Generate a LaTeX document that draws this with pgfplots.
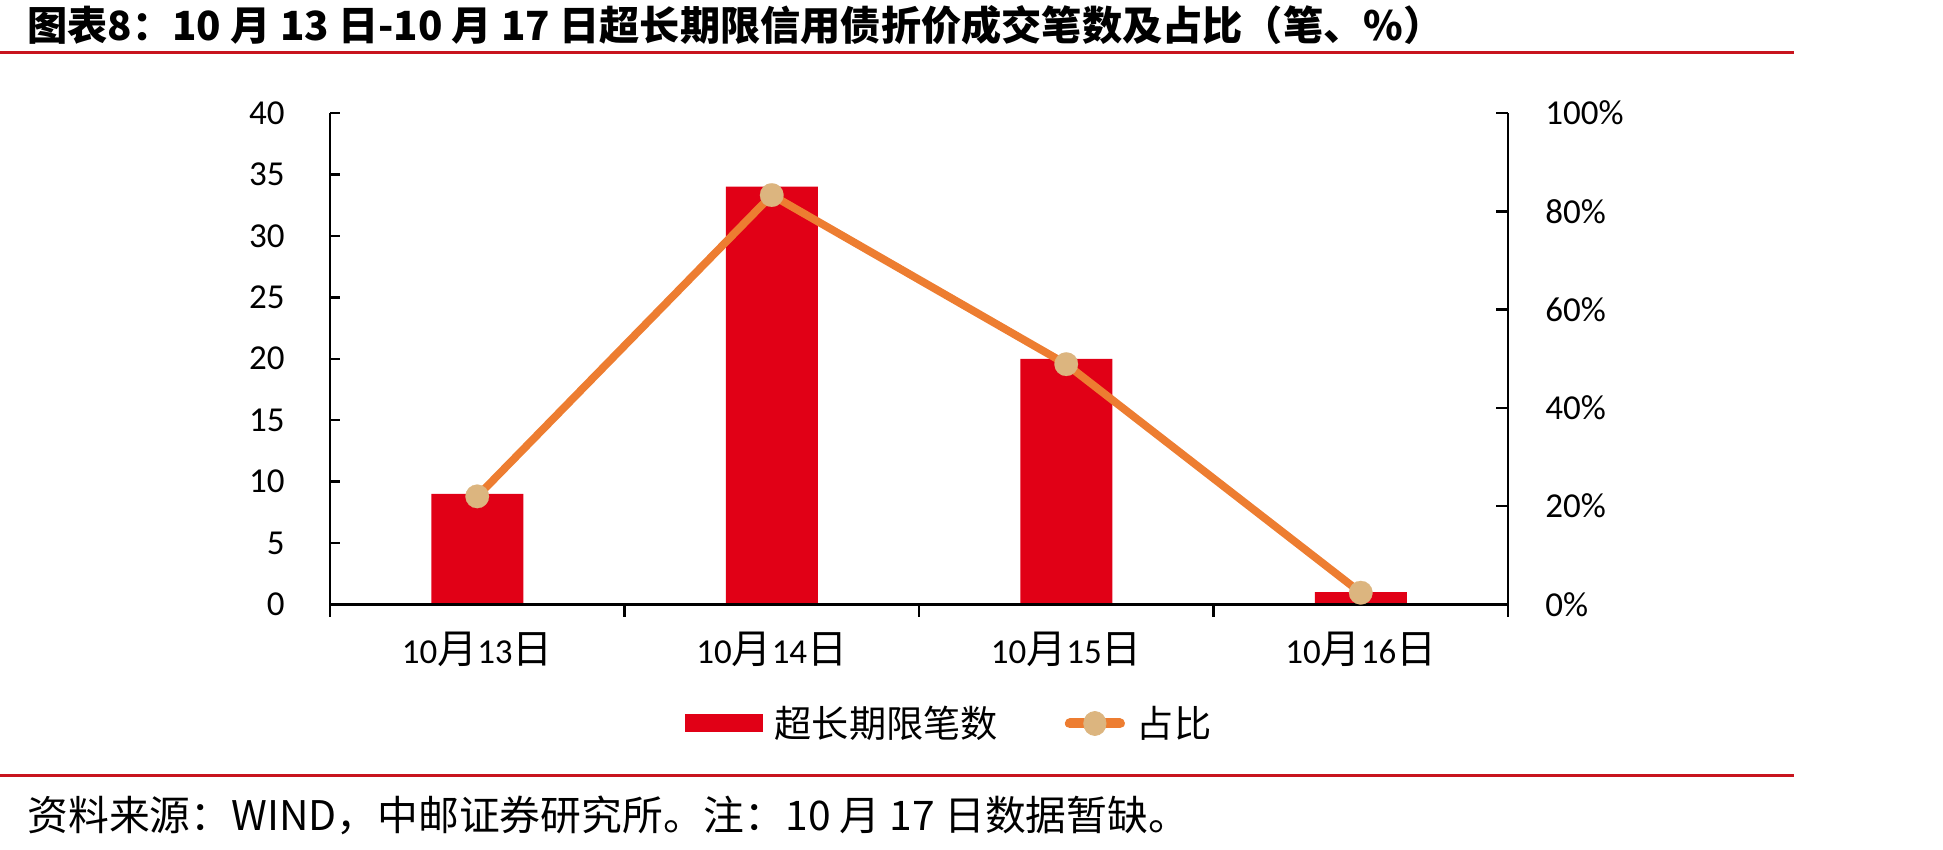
\documentclass[border=0pt]{standalone}
\usepackage{pgfplots}
\pgfplotsset{compat=1.18}
\usepackage{fontspec}
\setmainfont{Carlito}
\newfontfamily\cjk{Noto Sans CJK SC}
\definecolor{barred}{RGB}{225,0,22}
\definecolor{orangeline}{RGB}{237,125,49}
\definecolor{markertan}{RGB}{220,181,127}
\definecolor{titlered}{RGB}{200,20,30}
\newcommand{\tfont}{\fontsize{17.5}{20}\selectfont}
\newcommand{\cfont}{\cjk\fontsize{18.6}{21}\selectfont}
\newcommand{\cj}[1]{{\cjk\fontsize{20}{21}\selectfont #1}}
\begin{document}
\begin{tikzpicture}
\path[use as bounding box] (0pt,0pt) rectangle (971.5pt,-425pt);
% title and footer
\node[anchor=base west, inner sep=0pt, font=\cjk\bfseries\fontsize{20.1}{22}\selectfont] at (13.5pt,-20.5pt) {图表8：10 月 13 日-10 月 17 日超长期限信用债折价成交笔数及占比（笔、\%）};
\draw[titlered, line width=1.5pt] (0pt,-26.5pt) -- (897pt,-26.5pt);
\draw[titlered, line width=1.5pt] (0pt,-387.5pt) -- (897pt,-387.5pt);
\node[anchor=base west, inner sep=0pt, font=\cjk\fontsize{20.4}{24}\selectfont] at (13.5pt,-415pt) {资料来源：WIND，中邮证券研究所。注：10 月 17 日数据暂缺。};

% bars + left axis
\begin{axis}[
  at={(165pt,-302.25pt)}, anchor=south west,
  scale only axis, width=589pt, height=245.75pt,
  xmin=0, xmax=4, ymin=0, ymax=40,
  axis x line*=bottom, axis y line*=left,
  axis line style={line width=1.25pt, black, -},
  tick align=inside,
  major tick length=5pt,
  xtick={0.5,1.5,2.5,3.5},
  xticklabels={{10\cj{月}13\cj{日}},{10\cj{月}14\cj{日}},{10\cj{月}15\cj{日}},{10\cj{月}16\cj{日}}},
  x tick style={draw=none},
  ytick={0,5,...,40},
  y tick style={line width=1.25pt, black},
  tick label style={font=\tfont},
  /pgf/number format/assume math mode=true,
  yticklabel style={inner xsep=0pt, xshift=-22.5pt},
  xticklabel style={anchor=base, inner sep=0pt, yshift=-29.25pt},
  clip=false,
  legend columns=2,
  legend style={draw=none, fill=none, at={(0.5246,-0.2421)}, anchor=center,
    font=\cfont, inner sep=0pt,
    nodes={inner sep=0pt},
    /tikz/every odd column/.append style={column sep=6pt},
    /tikz/every even column/.append style={column sep=33.5pt}},
]
\addplot[ybar, bar width=46pt, fill=barred, draw=none,
  legend image code/.code={\fill[barred] (0pt,-4.5pt) rectangle (39pt,4.5pt);}]
  coordinates {(0.5,9) (1.5,34) (2.5,20) (3.5,1)};
\addlegendentry{超长期限笔数}
\addlegendimage{legend image code/.code={\draw[orangeline, line width=5pt, line cap=round] (2.5pt,0pt) -- (27.5pt,0pt); \fill[markertan] (15pt,0pt) ellipse (5.6pt and 6pt);}}
\addlegendentry{占比}
\end{axis}

% x ticks (outside)
\begin{axis}[
  at={(165pt,-302.25pt)}, anchor=south west,
  scale only axis, width=589pt, height=245.75pt,
  xmin=0, xmax=4, ymin=0, ymax=1,
  axis x line*=bottom, hide y axis,
  axis line style={line width=1.25pt, black, -},
  tick align=outside, major tick length=6pt,
  xtick={0,1,2,3,4}, xticklabels={},
  x tick style={line width=1.25pt, black},
]
\end{axis}

% line + right axis
\begin{axis}[
  at={(165pt,-302.25pt)}, anchor=south west,
  scale only axis, width=589pt, height=245.75pt,
  xmin=0, xmax=4, ymin=0, ymax=100,
  axis y line*=right, axis x line=none,
  axis line style={line width=1.25pt, black, -},
  tick align=inside, major tick length=6pt,
  ytick={0,20,...,100},
  yticklabels={0\%,20\%,40\%,60\%,80\%,100\%},
  y tick style={line width=1.25pt, black},
  tick label style={font=\tfont},
  yticklabel style={inner xsep=0pt, xshift=18.5pt},
  clip=false,
]
\addplot[orangeline, line width=3.9pt, line join=round, mark=*, mark size=5.9pt,
  mark options={fill=markertan, draw=markertan, line width=0.1pt}]
  coordinates {(0.5,22.0) (1.5,83.3) (2.5,48.9) (3.5,2.4)};
\end{axis}
\end{tikzpicture}
\end{document}
